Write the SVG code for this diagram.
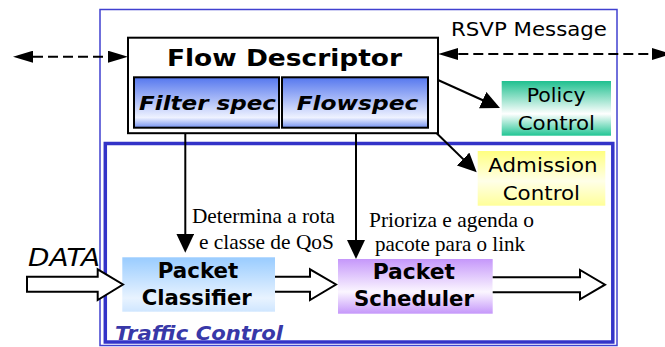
<svg xmlns="http://www.w3.org/2000/svg" width="665" height="347" viewBox="0 0 665 347">
<defs>
<style>
.sans{font-family:"DejaVu Sans","Liberation Sans",sans-serif;fill:#000}
.b{font-weight:bold}
.i{font-style:italic}
.serif{font-family:"Liberation Serif","DejaVu Serif",serif;fill:#000;font-size:21px}
.box{stroke:#000;stroke-width:2}
.ln{stroke:#000;stroke-width:2;fill:none}
.dash{stroke:#000;stroke-width:2;fill:none;stroke-dasharray:10,5}
.block{stroke:#000;stroke-width:2;fill:#fff;stroke-linejoin:miter}
</style>
<linearGradient id="gBlue" x1="0" y1="0" x2="0" y2="1">
<stop offset="0" stop-color="#5577ee"/><stop offset="0.8" stop-color="#eef2ff"/><stop offset="1" stop-color="#7592f0"/>
</linearGradient>
<linearGradient id="gGreen" x1="0" y1="0" x2="0" y2="1">
<stop offset="0" stop-color="#1fc08f"/><stop offset="0.6" stop-color="#ffffff"/><stop offset="1" stop-color="#22c594"/>
</linearGradient>
<linearGradient id="gYellow" x1="0" y1="0" x2="0" y2="1">
<stop offset="0" stop-color="#ffff80"/><stop offset="0.55" stop-color="#ffffe8"/><stop offset="1" stop-color="#ffff99"/>
</linearGradient>
<linearGradient id="gLight" x1="0" y1="0" x2="0" y2="1">
<stop offset="0" stop-color="#99ccff"/><stop offset="0.75" stop-color="#e8f3ff"/><stop offset="1" stop-color="#cfe6ff"/>
</linearGradient>
<linearGradient id="gPurple" x1="0" y1="0" x2="0" y2="1">
<stop offset="0" stop-color="#c597fa"/><stop offset="0.6" stop-color="#fbf6ff"/><stop offset="1" stop-color="#c597fa"/>
</linearGradient>
<marker id="ah" markerUnits="userSpaceOnUse" markerWidth="20" markerHeight="18" refX="13" refY="9" orient="auto">
<path d="M0,0 L19,9 L0,18 z" fill="#000"/>
</marker>
<marker id="dh" markerUnits="userSpaceOnUse" markerWidth="21" markerHeight="12" refX="15" refY="6" orient="auto-start-reverse">
<path d="M0,0 L20,6 L0,12 z" fill="#000"/>
</marker>
</defs>
<rect width="665" height="347" fill="#fff"/>

<g id="outer-frame">
<rect x="100" y="9.5" width="517" height="336" fill="none" stroke="#4040d0" stroke-width="1.5"/>
</g>

<g id="traffic-control">
<rect x="105.3" y="143.5" width="507.5" height="198.5" fill="none" stroke="#3333c8" stroke-width="3.5"/>
<text class="sans b i" x="115" y="339.5" font-size="20" textLength="168" lengthAdjust="spacingAndGlyphs" style="fill:#3838a8">Traffic Control</text>
</g>

<g id="rsvp-label">
<text class="sans" x="451" y="35.7" font-size="19.5" textLength="156" lengthAdjust="spacingAndGlyphs">RSVP Message</text>
</g>

<g id="flow-descriptor">
<rect class="box" x="128" y="37.7" width="310" height="95.5" fill="#fff"/>
<text class="sans b" x="167" y="65.5" font-size="22.5" textLength="235" lengthAdjust="spacingAndGlyphs">Flow Descriptor</text>
<g id="filter-spec">
<rect class="box" x="134" y="77.3" width="145" height="50.4" fill="url(#gBlue)"/>
<text class="sans b i" x="139" y="110" font-size="20" textLength="137" lengthAdjust="spacingAndGlyphs">Filter spec</text>
</g>
<g id="flowspec">
<rect class="box" x="282" y="77.3" width="146" height="50.4" fill="url(#gBlue)"/>
<text class="sans b i" x="296.7" y="110" font-size="20" textLength="121.6" lengthAdjust="spacingAndGlyphs">Flowspec</text>
</g>
</g>

<g id="policy-control">
<rect x="501.7" y="81" width="109.3" height="54.7" fill="url(#gGreen)"/>
<text class="sans" x="526.7" y="101.7" font-size="19" textLength="59" lengthAdjust="spacingAndGlyphs">Policy</text>
<text class="sans" x="517.7" y="130" font-size="19" textLength="77.3" lengthAdjust="spacingAndGlyphs">Control</text>
</g>

<g id="admission-control">
<rect x="477.7" y="151" width="127.6" height="54.7" fill="url(#gYellow)"/>
<text class="sans" x="488.3" y="171.7" font-size="19" textLength="109.3" lengthAdjust="spacingAndGlyphs">Admission</text>
<text class="sans" x="502.7" y="200" font-size="19" textLength="77.3" lengthAdjust="spacingAndGlyphs">Control</text>
</g>

<g id="packet-classifier">
<rect x="122.3" y="257.3" width="152.7" height="54.4" fill="url(#gLight)"/>
<text class="sans b" x="157.7" y="278.3" font-size="20.5" textLength="80.6" lengthAdjust="spacingAndGlyphs">Packet</text>
<text class="sans b" x="141.7" y="305" font-size="20.5" textLength="110" lengthAdjust="spacingAndGlyphs">Classifier</text>
</g>

<g id="packet-scheduler">
<rect x="338" y="259" width="154.7" height="54.7" fill="url(#gPurple)"/>
<text class="sans b" x="372.7" y="279" font-size="20.5" textLength="82.3" lengthAdjust="spacingAndGlyphs">Packet</text>
<text class="sans b" x="354" y="305.7" font-size="20.5" textLength="120" lengthAdjust="spacingAndGlyphs">Scheduler</text>
</g>

<g id="notes">
<text class="sans i" x="28" y="265.7" font-size="24" textLength="72" lengthAdjust="spacingAndGlyphs">DATA</text>
<text class="serif" x="192" y="223.3" textLength="143" lengthAdjust="spacingAndGlyphs">Determina a rota</text>
<text class="serif" x="199" y="249" textLength="135" lengthAdjust="spacingAndGlyphs">e classe de QoS</text>
<text class="serif" x="369" y="227.3" textLength="165" lengthAdjust="spacingAndGlyphs">Prioriza e agenda o</text>
<text class="serif" x="375" y="251" textLength="150" lengthAdjust="spacingAndGlyphs">pacote para o link</text>
</g>

<g id="connectors">
<line class="dash" x1="18" y1="56.7" x2="123" y2="56.7" marker-start="url(#dh)" marker-end="url(#dh)"/>
<line class="dash" x1="443.3" y1="54" x2="666.7" y2="54" marker-start="url(#dh)" marker-end="url(#dh)"/>
<line class="ln" x1="185.3" y1="133" x2="185.3" y2="246.7" marker-end="url(#ah)"/>
<line class="ln" x1="356" y1="133" x2="356" y2="253" marker-end="url(#ah)"/>
<line class="ln" x1="438" y1="80" x2="494.5" y2="105.5" marker-end="url(#ah)"/>
<line class="ln" x1="436.7" y1="133.3" x2="472.4" y2="168.1" marker-end="url(#ah)"/>
<path class="block" d="M27,276.7 H97.7 V269.3 L123,284.5 L97.7,300 V291.7 H27 Z"/>
<path class="block" d="M275,276.7 H310 V269.3 L336,284.5 L310,300 V291.7 H275"/>
<path class="block" d="M492.7,277.3 H580 V270 L605,284.7 L580,299.3 V292.3 H492.7"/>
</g>
</svg>
